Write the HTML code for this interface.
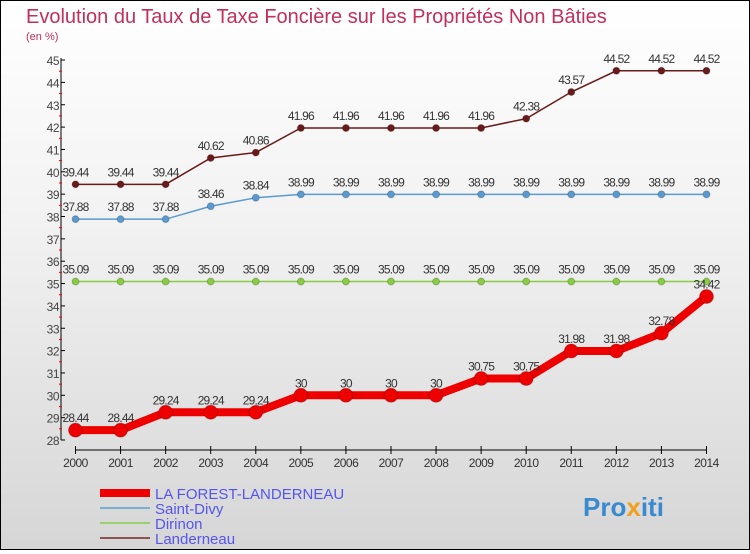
<!DOCTYPE html>
<html><head><meta charset="utf-8"><style>
body{margin:0}
#c{width:750px;height:550px;position:relative;box-sizing:border-box;border:1px solid #000;background:linear-gradient(#fff,#f2f2f2 40%,#d6d6d6);font-family:"Liberation Sans",sans-serif}
</style></head><body>
<div id="c">
<svg width="748" height="548" viewBox="1 1 748 548" id="s">
<text x="26" y="23" font-size="20" fill="#c0305a">Evolution du Taux de Taxe Foncière sur les Propriétés Non Bâties</text>
<text x="26" y="40" font-size="11" fill="#c0305a">(en %)</text>
<g id="axes"></g><g id="series"></g>
<g>
<line x1="100" y1="493" x2="150" y2="493" stroke="#e00" stroke-width="8"/>
<text x="155" y="499" font-size="15" fill="#5555ee">LA FOREST-LANDERNEAU</text>
<line x1="100" y1="508" x2="150" y2="508" stroke="#7aaed0" stroke-width="2"/>
<text x="155" y="514" font-size="15" fill="#5555ee">Saint-Divy</text>
<line x1="100" y1="523" x2="150" y2="523" stroke="#99d070" stroke-width="2"/>
<text x="155" y="529" font-size="15" fill="#5555ee">Dirinon</text>
<line x1="100" y1="538" x2="150" y2="538" stroke="#8b5555" stroke-width="2"/>
<text x="155" y="544" font-size="15" fill="#5555ee">Landerneau</text>
</g>
<text x="583" y="516" font-size="26" font-weight="bold" fill="#3a8ad0">Pro<tspan fill="#f0a020">x</tspan>iti</text>
</svg>
</div>
<script>
const years=[2000,2001,2002,2003,2004,2005,2006,2007,2008,2009,2010,2011,2012,2013,2014];
const yTicks=[28,29,30,31,32,33,34,35,36,37,38,39,40,41,42,43,44,45];
const laForest=[28.44,28.44,29.24,29.24,29.24,30,30,30,30,30.75,30.75,31.98,31.98,32.78,34.42];
const saintDivy=[37.88,37.88,37.88,38.46,38.84,38.99,38.99,38.99,38.99,38.99,38.99,38.99,38.99,38.99,38.99];
const dirinon=[35.09,35.09,35.09,35.09,35.09,35.09,35.09,35.09,35.09,35.09,35.09,35.09,35.09,35.09,35.09];
const landerneau=[39.44,39.44,39.44,40.62,40.86,41.96,41.96,41.96,41.96,41.96,42.38,43.57,44.52,44.52,44.52];
const NS="http://www.w3.org/2000/svg";
const X=i=>75.5+i*45.07;
const Y=v=>440-(v-28)*22.35;
function mk(t,a,p){const e=document.createElementNS(NS,t);for(const k in a)e.setAttribute(k,a[k]);p.appendChild(e);return e;}
const ax=document.getElementById('axes'),se=document.getElementById('series');
let l=mk('line',{x1:61,y1:Y(45)-2,x2:61,y2:Y(28),stroke:'#000'},ax);


l=mk('line',{x1:X(0),y1:450,x2:X(14),y2:450,stroke:'#000'},ax);


yTicks.forEach(v=>{
 mk('line',{x1:61,y1:Y(v),x2:65,y2:Y(v),stroke:'#000'},ax);
 if(v<45)mk('line',{x1:59,y1:Y(v+0.5),x2:62,y2:Y(v+0.5),stroke:'#e00'},ax);
 const t=mk('text',{x:59,y:Y(v)+5,'font-size':12,'text-anchor':'end',fill:'#444','letter-spacing':'-0.5'},ax);
 t.textContent=v;
 
 
});
years.forEach((yr,i)=>{
 mk('line',{x1:X(i),y1:446,x2:X(i),y2:454,stroke:'#000'},ax);
 const t=mk('text',{x:X(i),y:467,'font-size':12,'text-anchor':'middle',fill:'#333','letter-spacing':'-0.5'},ax);
 t.textContent=yr;
 
 
});
function draw(arr,color,w,r,name){
 const g=mk('g',{},se);
 
 
 mk('polyline',{points:arr.map((v,i)=>X(i)+','+Y(v)).join(' '),fill:'none',stroke:color,'stroke-width':w},g);
 arr.forEach((v,i)=>{
  const c=mk('circle',{cx:X(i),cy:Y(v),r:r,fill:color,stroke:'rgba(0,0,0,0.2)'},g);
  
  
  const t=mk('text',{x:X(i),y:Y(v)-8,'font-size':12,'text-anchor':'middle',fill:'#333','letter-spacing':'-0.8'},g);
  t.textContent=v;
  
  
 });
}
draw(dirinon,'#88cc44',1.5,3.5,'series-dirinon');
draw(saintDivy,'#5a9ad0',1.5,3.5,'series-saint-divy');
draw(landerneau,'#6a1a1a',1.5,3.5,'series-landerneau');
draw(laForest,'#ee0000',8,7,'series-la-forest');
</script>
</body></html>
